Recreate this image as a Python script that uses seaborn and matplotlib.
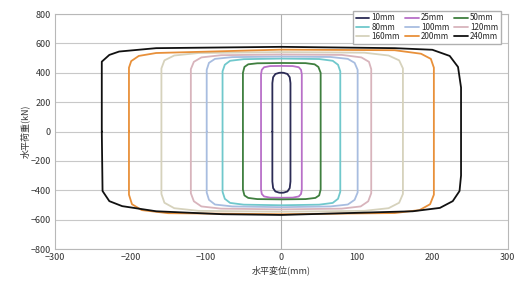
import pandas as pd
import seaborn as sns
import matplotlib.pyplot as plt

# === データ ===
sizes = ["10mm", "25mm", "50mm", "80mm", "100mm", "120mm", "160mm", "200mm", "240mm"]
colors = ["#2b2b55", "#b870c8", "#3f7f3f", "#70c8cc", "#a8bde0",
          "#d8b4bc", "#d6d2bc", "#e8903a", "#111111"]

x_10 = [-12, -12, -11, -8, -3, 0, 3, 8, 11, 12, 12, 12, 11, 8, 3, 0, -3, -8, -11, -12, -12]
f_10 = [0, 330, 370, 392, 400, 401, 400, 392, 370, 330, 0, -340, -385, -408, -416, -417, -416, -408, -385, -340, 0]

x_25 = [-27, -27, -26, -23, -15, 0, 15, 23, 26, 27, 27, 27, 26, 23, 15, 0, -15, -23, -26, -27, -27]
f_25 = [0, 390, 420, 438, 446, 447, 446, 438, 420, 390, 0, -395, -425, -442, -450, -451, -450, -442, -425, -395, 0]

x_50 = [-51, -51, -49, -44, -32, 0, 32, 44, 49, 52, 52, 52, 50, 45, 32, 0, -32, -44, -49, -51, -51]
f_50 = [0, 400, 440, 458, 465, 467, 466, 458, 440, 400, 0, -395, -435, -452, -460, -462, -460, -452, -435, -395, 0]

x_80 = [-78, -78, -75, -68, -50, 0, 50, 68, 75, 78, 78, 78, 75, 68, 50, 0, -50, -68, -75, -78, -78]
f_80 = [0, 410, 455, 482, 493, 497, 494, 482, 455, 410, 0, -410, -458, -486, -498, -502, -498, -486, -458, -410, 0]

x_100 = [-99, -99, -96, -88, -65, 0, 65, 88, 97, 101, 101, 101, 97, 88, 65, 0, -65, -88, -96, -99, -99]
f_100 = [0, 420, 468, 495, 507, 511, 508, 495, 468, 420, 0, -415, -465, -497, -510, -515, -510, -497, -465, -415, 0]

x_120 = [-120, -120, -116, -106, -80, 0, 80, 106, 116, 119, 119, 119, 115, 105, 80, 0, -80, -106, -116, -120, -120]
f_120 = [0, 425, 475, 505, 520, 525, 522, 505, 475, 425, 0, -420, -475, -510, -525, -530, -525, -510, -475, -420, 0]

x_160 = [-159, -159, -155, -142, -110, 0, 110, 142, 156, 161, 161, 161, 156, 142, 110, 0, -110, -142, -155, -159, -159]
f_160 = [0, 430, 485, 518, 535, 541, 537, 518, 485, 430, 0, -425, -485, -522, -540, -546, -540, -522, -485, -425, 0]

x_200 = [-202, -202, -199, -189, -166, 0, 150, 185, 198, 202, 202, 202, 197, 183, 150, 0, -150, -185, -198, -202, -202]
f_200 = [0, 435, 480, 515, 535, 558, 554, 530, 495, 435, 0, -430, -495, -535, -555, -563, -556, -535, -495, -430, 0]

x_240 = [-238, -238, -228, -215, -166, 0, 150, 200, 223, 234, 238, 238, 236, 227, 210, 174, 0, -78, -166, -211, -228, -237, -238]
f_240 = [0, 476, 522, 545, 568, 577, 568, 557, 515, 440, 300, -300, -405, -474, -520, -543, -568, -563, -543, -508, -474, -405, 0]

x_ticks = [-300, -200, -100, 0, 100, 200, 300]
y_ticks = [-800, -600, -400, -200, 0, 200, 400, 600, 800]

loops = [(x_10, f_10), (x_25, f_25), (x_50, f_50), (x_80, f_80), (x_100, f_100),
         (x_120, f_120), (x_160, f_160), (x_200, f_200), (x_240, f_240)]

frames = []
for name, (xs, fs) in zip(sizes, loops):
    frames.append(pd.DataFrame({"disp": xs, "force": fs, "size": name}))
df = pd.concat(frames, ignore_index=True)

# === 描画 ===
sns.set_theme(style="white")
plt.rcParams["font.family"] = ["Noto Sans CJK JP", "DejaVu Sans"]

fig = plt.figure(figsize=(5.14, 2.82), dpi=100)
ax = fig.add_axes([0.107, 0.117, 0.881, 0.833])

for y in y_ticks:
    ax.axhline(y, color="#c8c8c8", lw=0.8, zorder=0)
ax.axvline(0, color="#b0b0b0", lw=0.8, zorder=0)

sns.lineplot(data=df, x="disp", y="force", hue="size", hue_order=sizes,
             palette=dict(zip(sizes, colors)), units="size", estimator=None,
             sort=False, lw=1.3, ax=ax)

ax.set_xlim(-300, 300)
ax.set_ylim(-800, 800)
ax.set_xticks(x_ticks)
ax.set_yticks(y_ticks)
ax.tick_params(labelsize=6.5, colors="#333333", length=0, pad=3)
for s in ax.spines.values():
    s.set_color("#b8b8b8")
    s.set_linewidth(0.8)

ax.set_xlabel("水平変位(mm)", fontsize=6.5, color="#333333", labelpad=2)
ax.set_ylabel("水平荷重(kN)", fontsize=6.5, color="#333333", labelpad=0)

# 凡例: 行ごとに並べる
handles, labels = ax.get_legend_handles_labels()
order = [0, 3, 6, 1, 4, 7, 2, 5, 8]
ax.legend([handles[i] for i in order], [labels[i] for i in order],
          ncol=3, loc="upper right", bbox_to_anchor=(0.982, 0.975),
          bbox_transform=fig.transFigure, fontsize=5.8, frameon=True,
          fancybox=False, edgecolor="#b0b0b0", framealpha=1,
          handlelength=1.7, handletextpad=0.3, columnspacing=0.6,
          labelspacing=0.05, borderpad=0.3)

plt.savefig("out.png", dpi=100)
plt.close()
